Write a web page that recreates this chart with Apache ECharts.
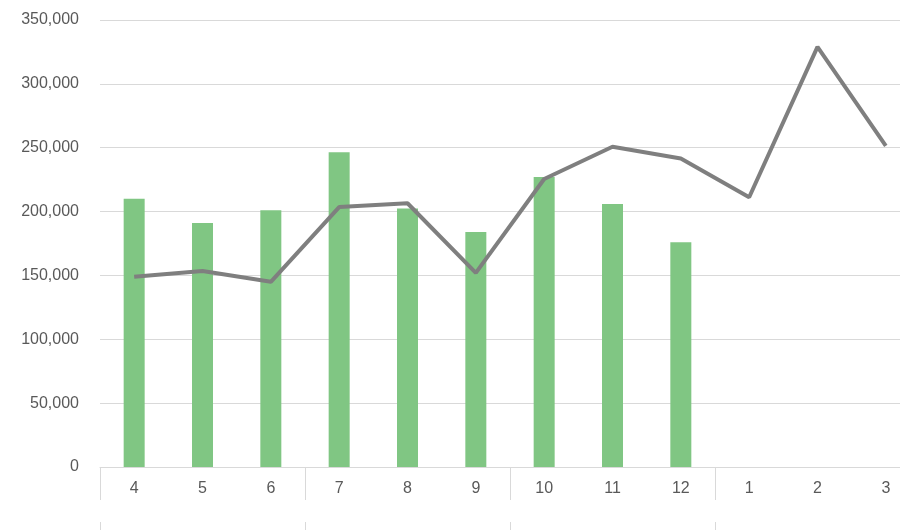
<!DOCTYPE html>
<html>
<head>
<meta charset="utf-8">
<script src="https://cdn.jsdelivr.net/npm/echarts@6/dist/echarts.min.js"></script>
<style>html,body{margin:0;padding:0;background:#fff;overflow:hidden;width:900px;height:530px}#c{width:920px;height:530px}</style>
</head>
<body>
<div id="c"></div>
<script>
const categories = ['4','5','6','7','8','9','10','11','12','1','2','3'];
const quarters = ['', '', '', ''];
const barValues = [210000, 191000, 201000, 246500, 202500, 184000, 227000, 206000, 176000, null, null, null];
const lineValues = [149000, 153500, 145000, 203500, 206500, 152000, 225500, 250800, 241500, 211200, 329000, 251500];
const yTicks = { min: 0, max: 350000, interval: 50000 };

const chart = echarts.init(document.getElementById('c'), null, { renderer: 'canvas' });
chart.setOption({
  animation: false,
  backgroundColor: '#ffffff',
  grid: { left: 100, right: 0, top: 20, bottom: 63, containLabel: false },
  xAxis: [{
    type: 'category',
    data: categories,
    boundaryGap: true,
    axisLine: { show: true, lineStyle: { color: '#d9d9d9', width: 1 } },
    axisTick: { show: true, length: 33, interval: function (i) { return i % 3 === 0; }, lineStyle: { color: '#d9d9d9' } },
    axisLabel: { color: '#595959', fontSize: 16, margin: 14, fontFamily: 'Liberation Sans Narrow, Liberation Sans, sans-serif' }
  }, {
    type: 'category',
    data: quarters,
    position: 'bottom',
    offset: 55,
    boundaryGap: true,
    axisLine: { show: false },
    axisTick: { show: true, length: 10, lineStyle: { color: '#d9d9d9' } },
    axisLabel: { show: false }
  }],
  yAxis: {
    type: 'value',
    min: yTicks.min, max: yTicks.max, interval: yTicks.interval,
    axisLine: { show: false },
    axisTick: { show: false },
    splitLine: { lineStyle: { color: '#d9d9d9', width: 1 } },
    axisLabel: {
      color: '#595959', fontSize: 16, margin: 21, fontFamily: 'Liberation Sans, sans-serif',
      formatter: function (v) { return v.toLocaleString('en-US'); }
    }
  },
  series: [{
    type: 'bar',
    data: barValues,
    xAxisIndex: 0,
    barWidth: 21,
    itemStyle: { color: '#80c683' }
  }, {
    type: 'line',
    data: lineValues,
    xAxisIndex: 0,
    showSymbol: false,
    symbol: 'none',
    lineStyle: { color: '#7f7f7f', width: 4 },
    z: 3
  }]
});
</script>
</body>
</html>
